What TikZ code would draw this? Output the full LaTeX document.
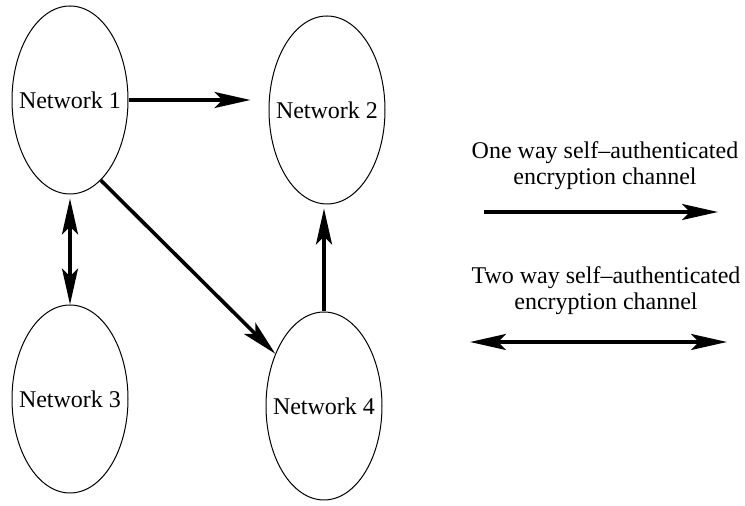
\documentclass[tikz,border=0pt]{standalone}
\usepackage{fontspec}
\setmainfont{Liberation Serif}
\usetikzlibrary{shapes.geometric,arrows.meta}
\newcommand{\netname}[1]{\makebox[0pt]{#1}} % text may touch the ellipse

\begin{document}
\begin{tikzpicture}[x=0.5pt,y=-0.5pt,
		every node/.style={font=\fontsize{12}{13}\selectfont},
		net/.style={draw, ellipse, line width=0.5pt, inner sep=0pt,
			minimum width=58pt, minimum height=94pt},
		oneway/.style={line width=1.8pt, -{Stealth[length=18pt,width=8pt,inset=4pt]}},
		twoway/.style={line width=1.8pt, {Stealth[length=18pt,width=8pt,inset=4pt]}-{Stealth[length=18pt,width=8pt,inset=4pt]}},
		legend/.style={align=center, inner sep=0pt}]
	\useasboundingbox (0,0) rectangle (745,506);
	% Networks
	\node [net] (n1) at (70,100) {\netname{Network 1}};
	\node [net] (n2) at (327,110) {\netname{Network 2}};
	\node [net] (n3) at (70,399) {\netname{Network 3}};
	\node [net] (n4) at (324,406) {\netname{Network 4}};
	% Channels
	\draw [oneway, shorten >=9pt] (n1.east) -- (n1.east -| n2.west);
	\draw [twoway, shorten <=2pt] (n1.south) -- (n3.north);
	\draw [oneway] (n1.-69) -- (n4.133);
	\draw [oneway, shorten >=2pt] (n4.north) -- (n4.north |- n2.south);
	% Legend
	\node [legend] (onetxt) at (605,166) {One way self--authenticated\\encryption channel};
	\coordinate (onel) at (484,212);
	\coordinate (oner) at (718,212);
	\draw [oneway] (onel) -- (oner);
	\node [legend] (twotxt) at (606,291) {Two way self--authenticated\\encryption channel};
	\coordinate (twol) at (470,342);
	\coordinate (twor) at (727,342);
	\draw [twoway] (twol) -- (twor);
\end{tikzpicture}
\end{document}
